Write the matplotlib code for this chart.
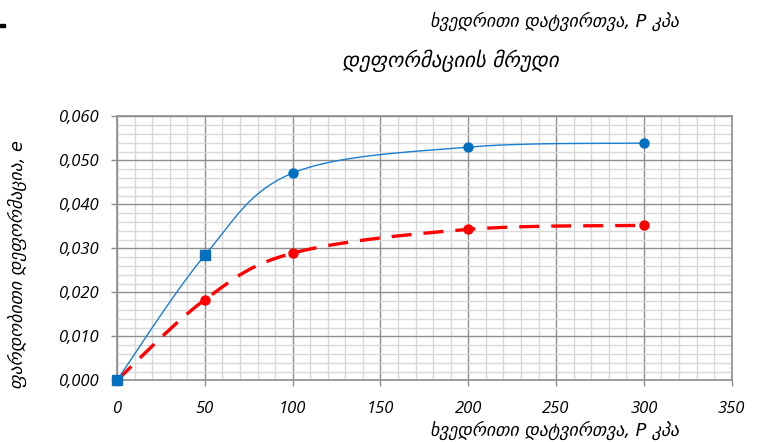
import numpy as np
import matplotlib
matplotlib.use("Agg")
import matplotlib.pyplot as plt
from matplotlib.ticker import MultipleLocator, FuncFormatter
from matplotlib.patches import Rectangle

# Load, kPa
load = [0, 50, 100, 200, 300]
# Relative deformation
strain_upper = [0.0, 0.0284, 0.0471, 0.0530, 0.0539]
strain_lower = [0.0, 0.0183, 0.0289, 0.0343, 0.0352]

x_ticks = [0, 50, 100, 150, 200, 250, 300, 350]
y_ticks = [0.0, 0.01, 0.02, 0.03, 0.04, 0.05, 0.06]

title = "დეფორმაციის მრუდი"
top_label = "ხვედრითი დატვირთვა, P კპა"
x_label = "ხვედრითი დატვირთვა, P კპა"
y_label = "ფარდობითი დეფორმაცია, e"

XMAX, YMAX = 350, 0.06


def smooth(xs, ys, n=60):
    """Bezier smoothing through points (control arms = neighbour chord / 6)."""
    p = np.column_stack([np.asarray(xs, float) / XMAX, np.asarray(ys, float) / YMAX * 0.43])
    pts = np.vstack([p[0], p, p[-1]])
    out = []
    t = np.linspace(0, 1, n)[:, None]
    for i in range(1, len(pts) - 2):
        p0, p1 = pts[i], pts[i + 1]
        c1 = p0 + (pts[i + 1] - pts[i - 1]) / 6
        c2 = p1 - (pts[i + 2] - pts[i]) / 6
        seg = ((1 - t) ** 3) * p0 + 3 * ((1 - t) ** 2) * t * c1 + 3 * (1 - t) * t ** 2 * c2 + t ** 3 * p1
        out.append(seg if i == 1 else seg[1:])
    s = np.vstack(out)
    return s[:, 0] * XMAX, s[:, 1] / 0.43 * YMAX


fig = plt.figure(figsize=(7.62, 4.42), dpi=100)
ax = fig.add_axes([117 / 762, 1 - 380.3 / 442, (731.7 - 117) / 762, (380.3 - 116.3) / 442])

geo_font = dict(family="DejaVu Sans", style="italic")

# grid
ax.xaxis.set_major_locator(MultipleLocator(50))
ax.xaxis.set_minor_locator(MultipleLocator(10))
ax.yaxis.set_major_locator(MultipleLocator(0.01))
ax.yaxis.set_minor_locator(MultipleLocator(0.002))
ax.grid(which="major", color="#8e8e8e", lw=1.0, zorder=0)
ax.grid(which="minor", color="#d9d9d9", lw=1.0, zorder=0)
ax.set_axisbelow(True)

ax.set_xlim(0, XMAX)
ax.set_ylim(0, YMAX)
ax.set_xticks(x_ticks)
ax.set_yticks(y_ticks)
ax.xaxis.set_major_formatter(FuncFormatter(lambda v, _: f"{v:.0f}"))
ax.yaxis.set_major_formatter(FuncFormatter(lambda v, _: f"{v:.3f}".replace(".", ",")))
ax.tick_params(which="major", direction="out", length=4, color="#8e8e8e", width=1)
ax.tick_params(axis="x", pad=11)
ax.tick_params(axis="y", pad=9)
ax.tick_params(which="minor", length=0)
for lab in ax.get_xticklabels() + ax.get_yticklabels():
    lab.set_fontfamily("Open Sans")
    lab.set_fontstyle("italic")
    lab.set_fontsize(12)
for sp in ax.spines.values():
    sp.set_color("#8e8e8e")
    sp.set_linewidth(1.2)

# lower curve (red, dashed)
sx, sy = smooth(load, strain_lower)
ax.plot(sx, sy, color="#ff0000", lw=2.4, dashes=(6.0, 3.6), zorder=3, clip_on=False)
ax.plot(load, strain_lower, "o", color="#ff0000", ms=6.5, zorder=4, clip_on=False)

# upper curve (blue)
sx, sy = smooth(load, strain_upper)
ax.plot(sx, sy, color="#1a7fd0", lw=1.0, zorder=5, clip_on=False)
ax.plot(load[:2], strain_upper[:2], "s", color="#0070c0", ms=6.5, zorder=6, clip_on=False)
ax.plot(load[2:], strain_upper[2:], "o", color="#0070c0", ms=6.5, zorder=6, clip_on=False)

# texts
fig.text(555 / 762, 1 - 21 / 442, top_label, ha="center", va="center", fontsize=12.8, **geo_font)
fig.text(450 / 762, 1 - 61 / 442, title, ha="center", va="center", fontsize=15, **geo_font)
fig.text(555 / 762, 1 - 430 / 442, x_label, ha="center", va="center", fontsize=12.8, **geo_font)
fig.text(17 / 762, 1 - 265 / 442, y_label, ha="center", va="center", rotation=90, fontsize=12.8, **geo_font)

# small mark at the top-left edge
fig.patches.append(Rectangle((0, 1 - 27 / 442), 5 / 762, 3 / 442, transform=fig.transFigure,
                             color="black", figure=fig))

fig.savefig("out.png", dpi=100)
